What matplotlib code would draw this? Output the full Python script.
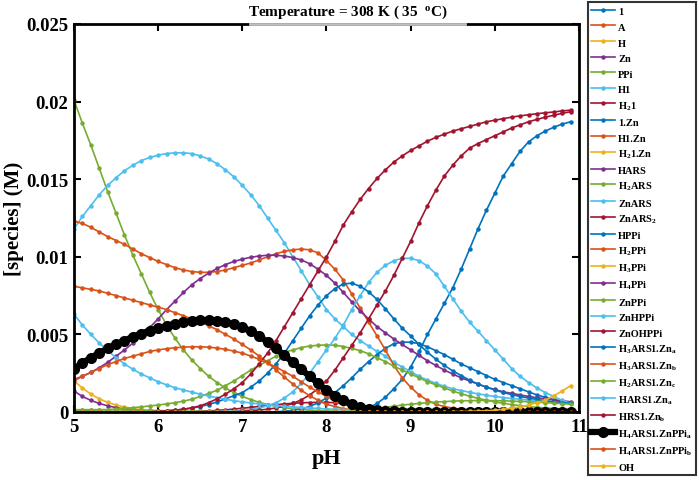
import numpy as np
import matplotlib
matplotlib.use('Agg')
import matplotlib.pyplot as plt

plt.rcParams['font.family'] = 'Liberation Serif'
plt.rcParams['font.weight'] = 'bold'
plt.rcParams['mathtext.fontset'] = 'custom'
plt.rcParams['mathtext.rm'] = 'Liberation Serif:bold'
plt.rcParams['mathtext.it'] = 'Liberation Serif:bold'
plt.rcParams['mathtext.bf'] = 'Liberation Serif:bold'
plt.rcParams['mathtext.default'] = 'rm'

# pH grid
pH = [5.0, 5.1, 5.2, 5.3, 5.4, 5.5, 5.6, 5.7, 5.8, 5.9,
      6.0, 6.1, 6.2, 6.3, 6.4, 6.5, 6.6, 6.7, 6.8, 6.9,
      7.0, 7.1, 7.2, 7.3, 7.4, 7.5, 7.6, 7.7, 7.8, 7.9,
      8.0, 8.1, 8.2, 8.3, 8.4, 8.5, 8.6, 8.7, 8.8, 8.9,
      9.0, 9.1, 9.2, 9.3, 9.4, 9.5, 9.6, 9.7, 9.8, 9.9,
      10.0, 10.1, 10.2, 10.3, 10.4, 10.5, 10.6, 10.7, 10.8, 10.9]

# species concentrations in mM
s_1 = [0, 0, 0, 0, 0, 0, 0, 0, 0, 0,
       0, 0, 0, 0, 0, 0, 0, 0, 0, 0,
       0, 0, 0, 0, 0, 0, 0, 0, 0, 0,
       0, 0, 0.01, 0.03, 0.08, 0.25, 0.55, 0.95, 1.5, 2.1,
       2.9, 3.9, 5.0, 6.0, 7.0, 8.0, 9.2, 10.5, 11.8, 13.0,
       14.1, 15.2, 16.0, 16.8, 17.4, 17.8, 18.1, 18.35, 18.55, 18.7]
s_A = [0.0] * 60
s_H = [2.0, 1.55, 1.15, 0.85, 0.62, 0.45, 0.32, 0.22, 0.15, 0.1,
       0.07, 0.05, 0.03, 0.02, 0.01, 0, 0, 0, 0, 0,
       0, 0, 0, 0, 0, 0, 0, 0, 0, 0,
       0, 0, 0, 0, 0, 0, 0, 0, 0, 0,
       0, 0, 0, 0, 0, 0, 0, 0, 0, 0,
       0, 0, 0, 0, 0, 0, 0, 0, 0, 0]
s_Zn = [1.35, 1.0, 0.75, 0.55, 0.4, 0.28, 0.19, 0.13, 0.09, 0.06,
        0.04, 0.03, 0.02, 0.01, 0, 0, 0, 0, 0, 0,
        0, 0, 0, 0, 0, 0, 0, 0, 0, 0,
        0, 0, 0, 0, 0, 0, 0, 0, 0, 0,
        0, 0, 0, 0, 0, 0, 0, 0, 0, 0,
        0, 0, 0, 0, 0, 0, 0, 0, 0, 0]
s_PPi = [20.1, 18.6, 17.2, 15.7, 14.2, 12.8, 11.4, 10.1, 8.9, 7.7,
         6.6, 5.6, 4.75, 4.0, 3.35, 2.8, 2.3, 1.9, 1.55, 1.25,
         1.0, 0.8, 0.62, 0.48, 0.37, 0.28, 0.21, 0.16, 0.12, 0.09,
         0.07, 0.05, 0.04, 0.03, 0.02, 0.01, 0.01, 0, 0, 0,
         0, 0, 0, 0, 0, 0, 0, 0, 0, 0,
         0, 0, 0, 0, 0, 0, 0, 0, 0, 0]
s_H1 = [11.8, 12.6, 13.3, 14.0, 14.6, 15.1, 15.55, 15.9, 16.2, 16.4,
        16.55, 16.65, 16.7, 16.7, 16.65, 16.5, 16.3, 16.0, 15.6, 15.15,
        14.6, 14.0, 13.3, 12.5, 11.7, 10.9, 10.0, 9.1, 8.2, 7.4,
        6.6, 6.0, 5.5, 5.0, 4.6, 4.25, 3.9, 3.6, 3.2, 2.9,
        2.6, 2.3, 2.05, 1.85, 1.65, 1.5, 1.38, 1.27, 1.17, 1.08,
        1.0, 0.93, 0.87, 0.82, 0.77, 0.72, 0.68, 0.64, 0.6, 0.56]
s_H21 = [0, 0, 0, 0, 0, 0, 0, 0, 0, 0,
         0, 0, 0, 0, 0.02, 0.05, 0.07, 0.1, 0.14, 0.19,
         0.24, 0.3, 0.36, 0.42, 0.47, 0.52, 0.56, 0.59, 0.61, 0.62,
         0.62, 0.6, 0.56, 0.5, 0.42, 0.33, 0.24, 0.16, 0.1, 0.06,
         0.03, 0.02, 0.01, 0, 0, 0, 0, 0, 0, 0,
         0, 0, 0, 0, 0, 0, 0, 0, 0, 0]
s_1Zn = [0, 0, 0, 0, 0, 0, 0, 0, 0, 0,
         0, 0, 0, 0, 0, 0, 0, 0, 0, 0,
         0, 0, 0, 0, 0.02, 0.05, 0.1, 0.2, 0.35, 0.6,
         0.9, 1.25, 1.7, 2.2, 2.75, 3.25, 3.7, 4.1, 4.4, 4.5,
         4.5, 4.4, 4.2, 3.95, 3.7, 3.4, 3.1, 2.85, 2.6, 2.35,
         2.1, 1.9, 1.7, 1.5, 1.3, 1.1, 0.95, 0.8, 0.65, 0.55]
s_H1Zn = [12.3, 12.15, 11.9, 11.6, 11.3, 11.05, 10.8, 10.5, 10.2, 9.95,
          9.7, 9.5, 9.3, 9.15, 9.05, 9.0, 9.0, 9.05, 9.15, 9.3,
          9.45, 9.6, 9.8, 10.0, 10.2, 10.35, 10.45, 10.5, 10.45, 10.25,
          9.75, 9.2, 8.5, 7.6, 6.7, 5.8, 4.9, 4.0, 3.0, 2.2,
          1.6, 1.1, 0.75, 0.5, 0.35, 0.25, 0.17, 0.12, 0.08, 0.05,
          0.03, 0.02, 0.02, 0.01, 0.01, 0.01, 0, 0, 0, 0]
s_H21Zn = [0.0] * 60
s_HARS = [2.1, 2.3, 2.55, 2.85, 3.2, 3.6, 4.0, 4.45, 4.9, 5.45,
          6.0, 6.6, 7.15, 7.7, 8.2, 8.6, 8.95, 9.25, 9.5, 9.7,
          9.85, 9.97, 10.05, 10.1, 10.1, 10.05, 9.95, 9.8, 9.55, 9.2,
          8.8, 8.3, 7.7, 7.1, 6.5, 6.0, 5.5, 5.1, 4.7, 4.35,
          4.0, 3.65, 3.3, 3.0, 2.7, 2.45, 2.2, 2.0, 1.8, 1.6,
          1.45, 1.3, 1.2, 1.1, 1.0, 0.92, 0.85, 0.78, 0.72, 0.66]
s_H2ARS = [0.1, 0.11, 0.12, 0.14, 0.16, 0.19, 0.23, 0.28, 0.33, 0.39,
           0.45, 0.52, 0.6, 0.7, 0.82, 1.0, 1.2, 1.4, 1.7, 2.0,
           2.35, 2.7, 3.0, 3.3, 3.6, 3.85, 4.0, 4.15, 4.25, 4.3,
           4.32, 4.3, 4.22, 4.1, 3.95, 3.75, 3.5, 3.25, 2.95, 2.7,
           2.45, 2.2, 1.95, 1.75, 1.55, 1.35, 1.18, 1.02, 0.88, 0.76,
           0.65, 0.56, 0.48, 0.41, 0.35, 0.3, 0.26, 0.22, 0.19, 0.16]
s_ZnARS = [0, 0, 0, 0, 0, 0, 0, 0, 0, 0,
           0, 0, 0, 0, 0, 0.01, 0.02, 0.03, 0.05, 0.07,
           0.1, 0.15, 0.25, 0.4, 0.6, 0.9, 1.3, 1.85, 2.5, 3.25,
           4.0, 4.75, 5.6, 6.6, 7.5, 8.35, 9.0, 9.45, 9.75, 9.9,
           9.9, 9.75, 9.4, 8.9, 8.1, 7.3, 6.5, 5.8, 5.2, 4.6,
           4.0, 3.4, 2.8, 2.3, 1.9, 1.55, 1.25, 1.0, 0.75, 0.55]
s_ZnARS2 = [0, 0, 0, 0, 0, 0, 0, 0, 0, 0,
            0, 0, 0, 0, 0, 0, 0, 0, 0, 0,
            0.05, 0.08, 0.12, 0.18, 0.26, 0.38, 0.55, 0.78, 1.1, 1.5,
            2.0, 2.7, 3.5, 4.3, 5.1, 6.0, 6.9, 7.8, 8.8, 9.9,
            11.0, 12.2, 13.3, 14.3, 15.2, 15.9, 16.5, 17.0, 17.3, 17.55,
            17.8, 18.05, 18.3, 18.5, 18.7, 18.85, 19.0, 19.12, 19.24, 19.35]
s_HPPi = [0, 0, 0, 0, 0, 0.01, 0.01, 0.02, 0.03, 0.04,
          0.05, 0.08, 0.12, 0.17, 0.25, 0.35, 0.48, 0.65, 0.85, 1.05,
          1.25, 1.6, 2.0, 2.5, 3.1, 3.8, 4.6, 5.4, 6.2, 6.9,
          7.5, 7.95, 8.25, 8.3, 8.1, 7.75, 7.25, 6.65, 6.0, 5.4,
          4.9, 4.35, 3.85, 3.4, 3.0, 2.65, 2.35, 2.05, 1.8, 1.6,
          1.42, 1.26, 1.12, 1.0, 0.9, 0.81, 0.73, 0.66, 0.6, 0.55]
s_H2PPi = [8.1, 8.0, 7.9, 7.8, 7.65, 7.5, 7.35, 7.2, 7.05, 6.9,
           6.75, 6.6, 6.4, 6.2, 6.0, 5.8, 5.55, 5.3, 5.0, 4.7,
           4.35, 4.0, 3.6, 3.2, 2.7, 2.25, 1.8, 1.4, 1.05, 0.75,
           0.5, 0.35, 0.22, 0.14, 0.08, 0.05, 0.03, 0.02, 0.01, 0,
           0, 0, 0, 0, 0, 0, 0, 0, 0, 0,
           0, 0, 0, 0, 0, 0, 0, 0, 0, 0]
s_H3PPi = [0.0] * 60
s_H4PPi = [0.0] * 60
s_ZnPPi = [0.15, 0.15, 0.15, 0.15, 0.14, 0.14, 0.13, 0.12, 0.11, 0.1,
           0.09, 0.08, 0.07, 0.06, 0.05, 0.04, 0.03, 0.03, 0.02, 0.02,
           0.01, 0.01, 0, 0, 0, 0, 0, 0, 0, 0,
           0, 0, 0, 0, 0, 0, 0, 0, 0, 0,
           0, 0, 0, 0, 0, 0, 0, 0, 0, 0,
           0, 0, 0, 0, 0, 0, 0, 0, 0, 0]
s_ZnHPPi = [6.3, 5.6, 5.0, 4.45, 3.95, 3.5, 3.1, 2.75, 2.45, 2.2,
            1.95, 1.75, 1.57, 1.42, 1.28, 1.15, 1.03, 0.92, 0.82, 0.73,
            0.65, 0.58, 0.52, 0.46, 0.41, 0.37, 0.33, 0.29, 0.26, 0.23,
            0.2, 0.17, 0.15, 0.13, 0.11, 0.09, 0.08, 0.07, 0.06, 0.05,
            0.04, 0.03, 0.03, 0.02, 0.02, 0.01, 0.01, 0.01, 0, 0,
            0, 0, 0, 0, 0, 0, 0, 0, 0, 0]
s_ZnOHPPi = [0, 0, 0, 0, 0, 0, 0, 0, 0, 0,
             0.05, 0.08, 0.12, 0.18, 0.27, 0.4, 0.6, 0.85, 1.15, 1.5,
             1.9, 2.45, 3.1, 3.8, 4.6, 5.5, 6.4, 7.3, 8.2, 9.1,
             10.0, 11.0, 12.05, 12.9, 13.7, 14.4, 15.05, 15.6, 16.1, 16.5,
             16.85, 17.15, 17.45, 17.7, 17.9, 18.1, 18.25, 18.4, 18.55, 18.7,
             18.8, 18.9, 19.0, 19.08, 19.15, 19.22, 19.28, 19.33, 19.4, 19.45]
s_H3ARS1Zn_a = [0.0] * 60
s_H3ARS1Zn_b = [2.0, 2.3, 2.55, 2.8, 3.05, 3.25, 3.45, 3.6, 3.75, 3.9,
                4.0, 4.08, 4.14, 4.18, 4.2, 4.2, 4.18, 4.12, 4.04, 3.92,
                3.8, 3.6, 3.4, 3.15, 2.9, 2.6, 2.3, 1.95, 1.6, 1.3,
                1.0, 0.72, 0.5, 0.33, 0.2, 0.12, 0.07, 0.04, 0.02, 0.01,
                0, 0, 0, 0, 0, 0, 0, 0, 0, 0,
                0, 0, 0, 0, 0, 0, 0, 0, 0, 0]
s_H2ARS1Zn_c = [0, 0, 0, 0, 0, 0, 0, 0, 0, 0,
                0, 0, 0, 0, 0, 0, 0, 0, 0, 0,
                0, 0, 0, 0, 0, 0, 0, 0, 0, 0,
                0, 0, 0, 0.05, 0.1, 0.15, 0.22, 0.3, 0.37, 0.45,
                0.5, 0.55, 0.6, 0.64, 0.67, 0.7, 0.72, 0.73, 0.74, 0.74,
                0.73, 0.72, 0.7, 0.68, 0.66, 0.63, 0.6, 0.57, 0.54, 0.5]
s_HARS1Zn_a = [0.0] * 60
s_HRS1Zn_b = [0.0] * 60
s_H4ARS1ZnPPi_a = [2.8, 3.15, 3.5, 3.8, 4.1, 4.35, 4.6, 4.85, 5.05, 5.25,
                   5.4, 5.55, 5.68, 5.78, 5.85, 5.9, 5.9, 5.87, 5.78, 5.65,
                   5.45, 5.2, 4.9, 4.5, 4.1, 3.65, 3.2, 2.75, 2.3, 1.85,
                   1.4, 1.05, 0.75, 0.5, 0.32, 0.2, 0.12, 0.07, 0.04, 0.02,
                   0.01, 0.01, 0, 0, 0, 0, 0, 0, 0, 0,
                   0, 0, 0, 0, 0, 0, 0, 0, 0, 0]
s_H4ARS1ZnPPi_b = [0.0] * 60
s_OH = [0, 0, 0, 0, 0, 0, 0, 0, 0, 0,
        0, 0, 0, 0, 0, 0, 0, 0, 0, 0,
        0, 0, 0, 0, 0, 0, 0, 0, 0, 0,
        0, 0, 0, 0, 0, 0, 0, 0, 0, 0,
        0, 0, 0, 0, 0, 0.02, 0.03, 0.04, 0.06, 0.08,
        0.12, 0.17, 0.24, 0.33, 0.45, 0.6, 0.75, 1.05, 1.35, 1.7]

labels = ['1', 'A', 'H', 'Zn', 'PPi', 'H1', 'H$_2$1', '1.Zn', 'H1.Zn', 'H$_2$1.Zn',
          'HARS', 'H$_2$ARS', 'ZnARS', 'ZnARS$_2$', 'HPPi', 'H$_2$PPi', 'H$_3$PPi',
          'H$_4$PPi', 'ZnPPi', 'ZnHPPi', 'ZnOHPPi', 'H$_3$ARS1.Zn$_a$', 'H$_3$ARS1.Zn$_b$',
          'H$_2$ARS1.Zn$_c$', 'HARS1.Zn$_a$', 'HRS1.Zn$_b$', 'H$_4$ARS1.ZnPPi$_a$',
          'H$_4$ARS1.ZnPPi$_b$', 'OH']
series = [s_1, s_A, s_H, s_Zn, s_PPi, s_H1, s_H21, s_1Zn, s_H1Zn, s_H21Zn,
          s_HARS, s_H2ARS, s_ZnARS, s_ZnARS2, s_HPPi, s_H2PPi, s_H3PPi,
          s_H4PPi, s_ZnPPi, s_ZnHPPi, s_ZnOHPPi, s_H3ARS1Zn_a, s_H3ARS1Zn_b,
          s_H2ARS1Zn_c, s_HARS1Zn_a, s_HRS1Zn_b, s_H4ARS1ZnPPi_a,
          s_H4ARS1ZnPPi_b, s_OH]

blue, orange, yellow, purple = '#0072BD', '#D95319', '#EDB120', '#7E2F8E'
green, lblue, dred = '#77AC30', '#4DBEEE', '#A2142F'
colors = [blue, orange, yellow, purple, green, lblue, dred, blue, orange, yellow,
          purple, green, lblue, dred, blue, orange, yellow, purple, green, lblue,
          dred, blue, orange, green, lblue, dred, 'black', orange, yellow]

fig = plt.figure(figsize=(6.99, 4.81), dpi=100)
ax = fig.add_axes([74 / 699, 1 - 413 / 481, 505 / 699, 388 / 481])

x = np.array(pH)
for lab, ys, c in zip(labels, series, colors):
    y = np.array(ys) * 1e-3
    if c == 'black':
        ax.plot(x, y, '-o', color=c, lw=4.5, ms=8, mew=0, label=lab)
    else:
        ax.plot(x, y, '-o', color=c, lw=1.2, ms=3.2, mew=0, label=lab)

ax.set_xlim(5, 11)
ax.set_ylim(0, 0.025)
ax.set_xticks([5, 6, 7, 8, 9, 10, 11])
ax.set_xticklabels(['5', '6', '7', '8', '9', '10', '11'])
ax.set_yticks([0, 0.005, 0.01, 0.015, 0.02, 0.025])
ax.set_yticklabels(['0', '0.005', '0.01', '0.015', '0.02', '0.025'])
ax.tick_params(direction='in', top=True, right=True, length=5, width=1.5,
               labelsize=13.5, pad=4)
for sp in ax.spines.values():
    sp.set_linewidth(2)

ax.set_xlabel('pH', fontsize=16, fontweight='bold', labelpad=10)
ax.set_ylabel('[species] (M)', fontsize=15, fontweight='bold')
ax.yaxis.set_label_coords(-0.099, 0.5)

# grey piece of the top frame under the title
ax.plot([0.349, 0.774], [1, 1], color='#c0c0c0', lw=2, transform=ax.transAxes,
        clip_on=False, zorder=5)
fig.text(348 / 699, 1 - 12 / 481, 'Temperature = 308 K ( 35  $^o$C)',
         ha='center', va='center', fontsize=11, fontweight='bold')

leg = fig.legend(loc='upper left', bbox_to_anchor=(588 / 699, 1 - 3 / 481),
                 fontsize=7.5, frameon=True, fancybox=False, edgecolor='black',
                 handlelength=2.3, handletextpad=0.3, borderpad=0.3,
                 labelspacing=0.41, handleheight=1.3, borderaxespad=0)
leg.get_frame().set_linewidth(1.5)

fig.savefig('out.png', dpi=100)
